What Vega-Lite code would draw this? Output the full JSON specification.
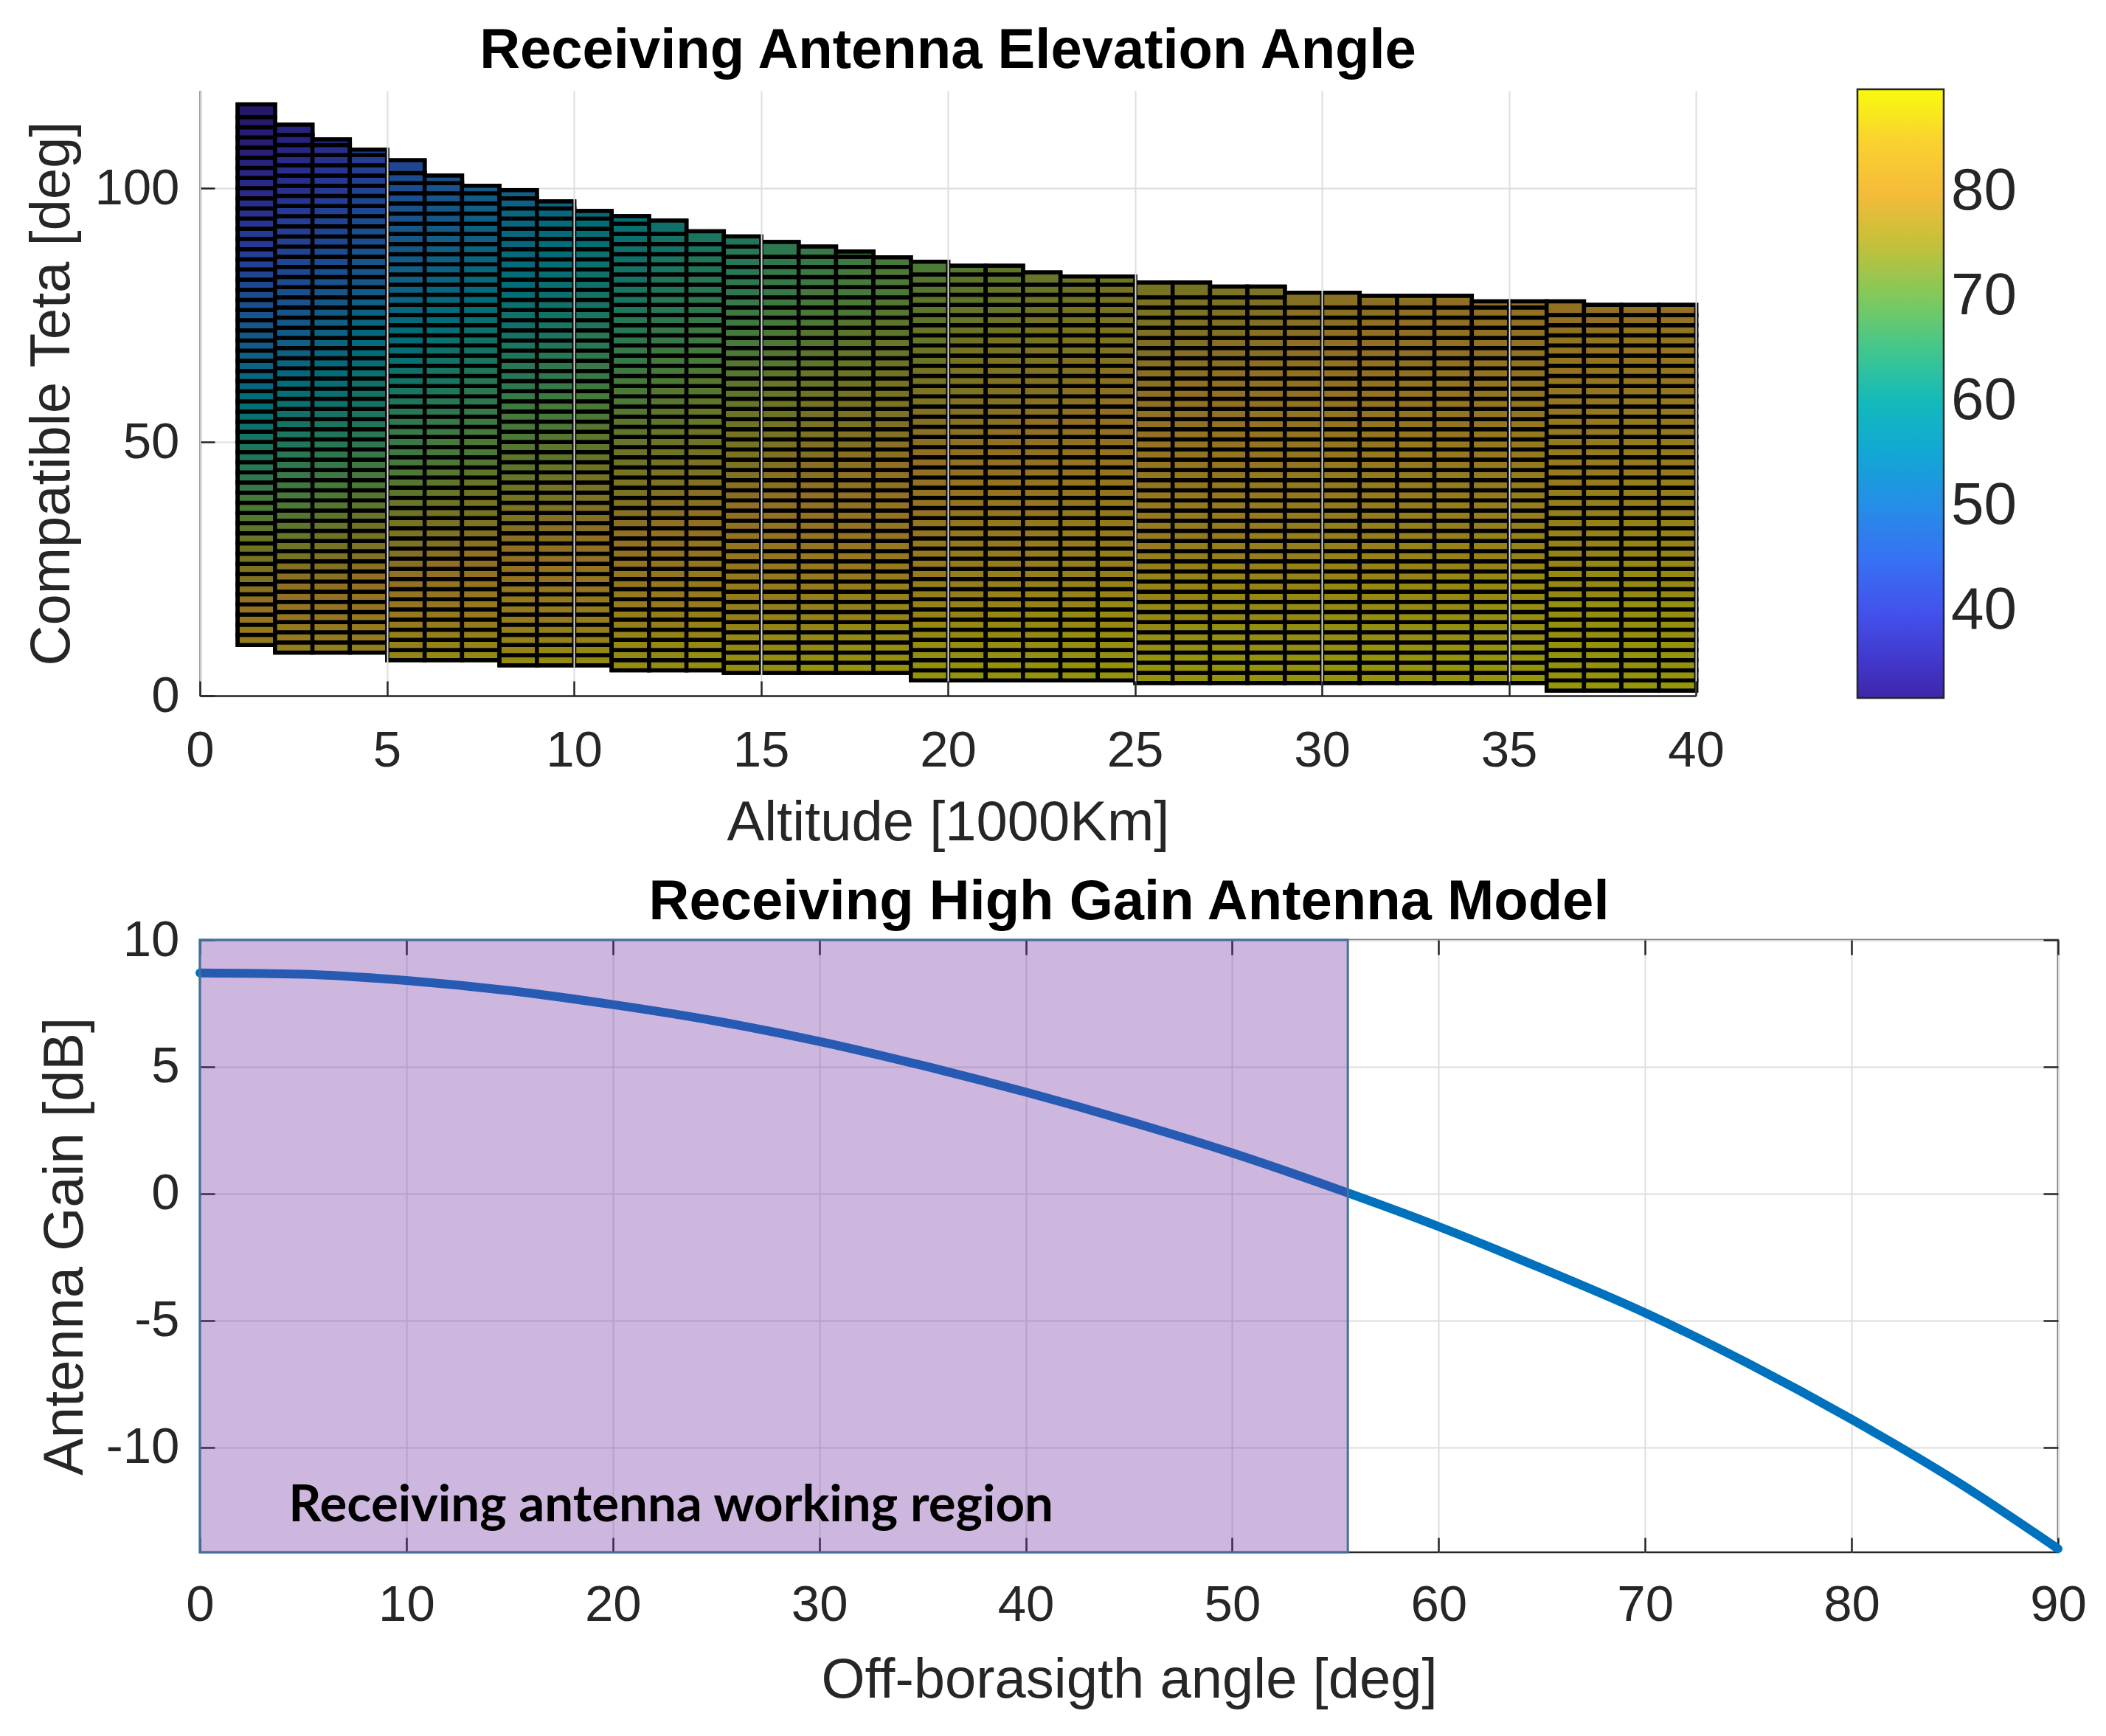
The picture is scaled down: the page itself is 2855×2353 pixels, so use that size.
{
  "$schema": "https://vega.github.io/schema/vega-lite/v6.json",
  "autosize": {"type": "pad"},
  "padding": {"left": 31, "top": 31, "right": 5, "bottom": 5},
  "background": "white",
  "spacing": 331,
  "bounds": "flush",
  "config": {
    "font": "Liberation Sans",
    "view": {"stroke": null},
    "axis": {"labelFont": "Liberation Sans", "titleFont": "Liberation Sans", "labelFontSize": 69, "titleFontSize": 76, "titleFontWeight": "normal", "labelColor": "#262626", "titleColor": "#262626", "tickColor": "#262626", "tickWidth": 2.5, "tickSize": -20, "domainColor": "#262626", "domainWidth": 2.5, "gridColor": "#dedede", "gridWidth": 2, "labelFlush": false, "labelOverlap": false, "labelBound": false, "titleBaseline": "middle"},
    "axisX": {"labelPadding": 60},
    "axisY": {"labelPadding": 48},
    "title": {"font": "Liberation Sans", "fontSize": 76, "fontWeight": "bold", "color": "#000000", "baseline": "middle", "anchor": "middle"},
    "legend": {"labelFont": "Liberation Sans"}
  },
  "vconcat": [
    {
      "width": 2028,
      "height": 820,
      "title": {"text": "Receiving Antenna Elevation Angle", "offset": 15},
      "data": {
        "values": "x,y,e\n1,10,84\n1,12,83\n1,14,82\n1,16,81\n1,18,80\n1,20,78\n1,22,77\n1,24,76\n1,26,75\n1,28,74\n1,30,73\n1,32,72\n1,34,71\n1,36,70\n1,38,69\n1,40,67\n1,42,66\n1,44,65\n1,46,64\n1,48,63\n1,50,62\n1,52,61\n1,54,60\n1,56,59\n1,58,58\n1,60,56\n1,62,55\n1,64,54\n1,66,53\n1,68,52\n1,70,51\n1,72,50\n1,74,49\n1,76,48\n1,78,47\n1,80,46\n1,82,45\n1,84,44\n1,86,43\n1,88,42\n1,90,42\n1,92,41\n1,94,40\n1,96,39\n1,98,38\n1,100,38\n1,102,37\n1,104,36\n1,106,35\n1,108,34\n1,110,34\n1,112,33\n1,114,32\n1,116.5,\n2,8.5,85\n2,10.5,84\n2,12.5,83\n2,14.5,82\n2,16.5,81\n2,18.5,80\n2,20.5,79\n2,22.5,78\n2,24.5,77\n2,26.5,75\n2,28.5,74\n2,30.5,73\n2,32.5,72\n2,34.5,71\n2,36.5,70\n2,38.5,69\n2,40.5,68\n2,42.5,67\n2,44.5,66\n2,46.5,65\n2,48.5,64\n2,50.5,63\n2,52.5,62\n2,54.5,61\n2,56.5,60\n2,58.5,59\n2,60.5,58\n2,62.5,56\n2,64.5,55\n2,66.5,54\n2,68.5,53\n2,70.5,52\n2,72.5,51\n2,74.5,50\n2,76.5,49\n2,78.5,48\n2,80.5,47\n2,82.5,46\n2,84.5,46\n2,86.5,45\n2,88.5,44\n2,90.5,43\n2,92.5,43\n2,94.5,42\n2,96.5,41\n2,98.5,40\n2,100.5,39\n2,102.5,39\n2,104.5,38\n2,106.5,37\n2,108.5,36\n2,110.5,36\n2,112.5,\n3,8.5,85\n3,10.5,84\n3,12.5,83\n3,14.5,82\n3,16.5,81\n3,18.5,80\n3,20.5,79\n3,22.5,78\n3,24.5,77\n3,26.5,76\n3,28.5,75\n3,30.5,74\n3,32.5,73\n3,34.5,72\n3,36.5,71\n3,38.5,70\n3,40.5,69\n3,42.5,68\n3,44.5,67\n3,46.5,66\n3,48.5,65\n3,50.5,64\n3,52.5,63\n3,54.5,62\n3,56.5,61\n3,58.5,60\n3,60.5,59\n3,62.5,58\n3,64.5,57\n3,66.5,56\n3,68.5,55\n3,70.5,54\n3,72.5,53\n3,74.5,52\n3,76.5,51\n3,78.5,50\n3,80.5,49\n3,82.5,48\n3,84.5,47\n3,86.5,47\n3,88.5,46\n3,90.5,45\n3,92.5,45\n3,94.5,44\n3,96.5,43\n3,98.5,42\n3,100.5,42\n3,102.5,41\n3,104.5,40\n3,106.5,39\n3,108.5,39\n3,109.6,\n4,8.5,85\n4,10.5,84\n4,12.5,84\n4,14.5,83\n4,16.5,82\n4,18.5,81\n4,20.5,80\n4,22.5,79\n4,24.5,78\n4,26.5,77\n4,28.5,76\n4,30.5,75\n4,32.5,74\n4,34.5,73\n4,36.5,72\n4,38.5,71\n4,40.5,70\n4,42.5,69\n4,44.5,68\n4,46.5,67\n4,48.5,66\n4,50.5,65\n4,52.5,64\n4,54.5,63\n4,56.5,62\n4,58.5,62\n4,60.5,61\n4,62.5,60\n4,64.5,59\n4,66.5,58\n4,68.5,57\n4,70.5,56\n4,72.5,55\n4,74.5,54\n4,76.5,53\n4,78.5,52\n4,80.5,51\n4,82.5,50\n4,84.5,50\n4,86.5,49\n4,88.5,48\n4,90.5,48\n4,92.5,47\n4,94.5,46\n4,96.5,46\n4,98.5,45\n4,100.5,44\n4,102.5,44\n4,104.5,43\n4,106.5,42\n4,107.6,\n5,7,86\n5,9,85\n5,11,85\n5,13,84\n5,15,83\n5,17,82\n5,19,81\n5,21,80\n5,23,79\n5,25,78\n5,27,77\n5,29,76\n5,31,76\n5,33,75\n5,35,74\n5,37,73\n5,39,72\n5,41,71\n5,43,70\n5,45,69\n5,47,68\n5,49,67\n5,51,67\n5,53,66\n5,55,65\n5,57,64\n5,59,63\n5,61,62\n5,63,61\n5,65,60\n5,67,59\n5,69,58\n5,71,58\n5,73,57\n5,75,56\n5,77,55\n5,79,54\n5,81,53\n5,83,53\n5,85,52\n5,87,51\n5,89,51\n5,91,50\n5,93,49\n5,95,49\n5,97,48\n5,99,47\n5,101,47\n5,103,46\n5,105.5,\n6,7,87\n6,9,86\n6,11,85\n6,13,84\n6,15,83\n6,17,82\n6,19,81\n6,21,81\n6,23,80\n6,25,79\n6,27,78\n6,29,77\n6,31,76\n6,33,75\n6,35,75\n6,37,74\n6,39,73\n6,41,72\n6,43,71\n6,45,70\n6,47,69\n6,49,69\n6,51,68\n6,53,67\n6,55,66\n6,57,65\n6,59,64\n6,61,63\n6,63,63\n6,65,62\n6,67,61\n6,69,60\n6,71,59\n6,73,58\n6,75,57\n6,77,57\n6,79,56\n6,81,55\n6,83,54\n6,85,54\n6,87,53\n6,89,53\n6,91,52\n6,93,51\n6,95,51\n6,97,50\n6,99,49\n6,101,49\n6,102.5,\n7,7,87\n7,9,86\n7,11,85\n7,13,84\n7,15,83\n7,17,83\n7,19,82\n7,21,81\n7,23,80\n7,25,79\n7,27,79\n7,29,78\n7,31,77\n7,33,76\n7,35,75\n7,37,75\n7,39,74\n7,41,73\n7,43,72\n7,45,71\n7,47,70\n7,49,70\n7,51,69\n7,53,68\n7,55,67\n7,57,66\n7,59,66\n7,61,65\n7,63,64\n7,65,63\n7,67,62\n7,69,62\n7,71,61\n7,73,60\n7,75,59\n7,77,58\n7,79,57\n7,81,57\n7,83,56\n7,85,56\n7,87,55\n7,89,54\n7,91,54\n7,93,53\n7,95,53\n7,97,52\n7,99,52\n7,100.5,\n8,6,87\n8,8,86\n8,10,86\n8,12,85\n8,14,84\n8,16,83\n8,18,83\n8,20,82\n8,22,81\n8,24,80\n8,26,79\n8,28,79\n8,30,78\n8,32,77\n8,34,76\n8,36,76\n8,38,75\n8,40,74\n8,42,73\n8,44,72\n8,46,72\n8,48,71\n8,50,70\n8,52,69\n8,54,69\n8,56,68\n8,58,67\n8,60,66\n8,62,65\n8,64,65\n8,66,64\n8,68,63\n8,70,62\n8,72,61\n8,74,61\n8,76,60\n8,78,59\n8,80,58\n8,82,58\n8,84,57\n8,86,57\n8,88,56\n8,90,56\n8,92,55\n8,94,55\n8,96,54\n8,98,53\n8,99.6,\n9,6,87\n9,8,87\n9,10,86\n9,12,85\n9,14,84\n9,16,84\n9,18,83\n9,20,82\n9,22,81\n9,24,81\n9,26,80\n9,28,79\n9,30,78\n9,32,78\n9,34,77\n9,36,76\n9,38,75\n9,40,75\n9,42,74\n9,44,73\n9,46,72\n9,48,72\n9,50,71\n9,52,70\n9,54,69\n9,56,69\n9,58,68\n9,60,67\n9,62,66\n9,64,66\n9,66,65\n9,68,64\n9,70,63\n9,72,63\n9,74,62\n9,76,61\n9,78,60\n9,80,60\n9,82,59\n9,84,59\n9,86,58\n9,88,58\n9,90,57\n9,92,57\n9,94,56\n9,96,56\n9,97.4,\n10,6,87\n10,8,87\n10,10,86\n10,12,85\n10,14,85\n10,16,84\n10,18,83\n10,20,82\n10,22,82\n10,24,81\n10,26,80\n10,28,80\n10,30,79\n10,32,78\n10,34,77\n10,36,77\n10,38,76\n10,40,75\n10,42,75\n10,44,74\n10,46,73\n10,48,72\n10,50,72\n10,52,71\n10,54,70\n10,56,70\n10,58,69\n10,60,68\n10,62,67\n10,64,67\n10,66,66\n10,68,65\n10,70,65\n10,72,64\n10,74,63\n10,76,62\n10,78,62\n10,80,61\n10,82,61\n10,84,60\n10,86,60\n10,88,59\n10,90,59\n10,92,58\n10,94,58\n10,95.5,\n11,5,88\n11,7,87\n11,9,87\n11,11,86\n11,13,85\n11,15,85\n11,17,84\n11,19,83\n11,21,82\n11,23,82\n11,25,81\n11,27,80\n11,29,80\n11,31,79\n11,33,78\n11,35,78\n11,37,77\n11,39,76\n11,41,76\n11,43,75\n11,45,74\n11,47,74\n11,49,73\n11,51,72\n11,53,72\n11,55,71\n11,57,70\n11,59,70\n11,61,69\n11,63,68\n11,65,67\n11,67,67\n11,69,66\n11,71,65\n11,73,65\n11,75,64\n11,77,63\n11,79,63\n11,81,62\n11,83,62\n11,85,61\n11,87,61\n11,89,60\n11,91,60\n11,93,59\n11,94.5,\n12,5,88\n12,7,87\n12,9,87\n12,11,86\n12,13,85\n12,15,85\n12,17,84\n12,19,84\n12,21,83\n12,23,82\n12,25,82\n12,27,81\n12,29,80\n12,31,80\n12,33,79\n12,35,78\n12,37,78\n12,39,77\n12,41,76\n12,43,76\n12,45,75\n12,47,74\n12,49,74\n12,51,73\n12,53,72\n12,55,72\n12,57,71\n12,59,71\n12,61,70\n12,63,69\n12,65,69\n12,67,68\n12,69,67\n12,71,67\n12,73,66\n12,75,65\n12,77,65\n12,79,64\n12,81,64\n12,83,63\n12,85,63\n12,87,62\n12,89,62\n12,91,61\n12,93.6,\n13,5,88\n13,7,88\n13,9,87\n13,11,86\n13,13,86\n13,15,85\n13,17,84\n13,19,84\n13,21,83\n13,23,83\n13,25,82\n13,27,81\n13,29,81\n13,31,80\n13,33,79\n13,35,79\n13,37,78\n13,39,78\n13,41,77\n13,43,76\n13,45,76\n13,47,75\n13,49,74\n13,51,74\n13,53,73\n13,55,73\n13,57,72\n13,59,71\n13,61,71\n13,63,70\n13,65,69\n13,67,69\n13,69,68\n13,71,68\n13,73,67\n13,75,66\n13,77,66\n13,79,65\n13,81,65\n13,83,64\n13,85,64\n13,87,63\n13,89,63\n13,91.5,\n14,4.5,88\n14,6.5,88\n14,8.5,87\n14,10.5,87\n14,12.5,86\n14,14.5,85\n14,16.5,85\n14,18.5,84\n14,20.5,84\n14,22.5,83\n14,24.5,82\n14,26.5,82\n14,28.5,81\n14,30.5,81\n14,32.5,80\n14,34.5,79\n14,36.5,79\n14,38.5,78\n14,40.5,78\n14,42.5,77\n14,44.5,76\n14,46.5,76\n14,48.5,75\n14,50.5,75\n14,52.5,74\n14,54.5,74\n14,56.5,73\n14,58.5,72\n14,60.5,72\n14,62.5,71\n14,64.5,71\n14,66.5,70\n14,68.5,69\n14,70.5,69\n14,72.5,68\n14,74.5,68\n14,76.5,67\n14,78.5,66\n14,80.5,66\n14,82.5,65\n14,84.5,65\n14,86.5,65\n14,88.5,64\n14,90.5,\n15,4.5,88\n15,6.5,88\n15,8.5,87\n15,10.5,87\n15,12.5,86\n15,14.5,86\n15,16.5,85\n15,18.5,84\n15,20.5,84\n15,22.5,83\n15,24.5,83\n15,26.5,82\n15,28.5,82\n15,30.5,81\n15,32.5,81\n15,34.5,80\n15,36.5,79\n15,38.5,79\n15,40.5,78\n15,42.5,78\n15,44.5,77\n15,46.5,77\n15,48.5,76\n15,50.5,75\n15,52.5,75\n15,54.5,74\n15,56.5,74\n15,58.5,73\n15,60.5,73\n15,62.5,72\n15,64.5,71\n15,66.5,71\n15,68.5,70\n15,70.5,70\n15,72.5,69\n15,74.5,69\n15,76.5,68\n15,78.5,67\n15,80.5,67\n15,82.5,67\n15,84.5,66\n15,86.5,66\n15,89.4,\n16,4.5,89\n16,6.5,88\n16,8.5,87\n16,10.5,87\n16,12.5,86\n16,14.5,86\n16,16.5,85\n16,18.5,85\n16,20.5,84\n16,22.5,84\n16,24.5,83\n16,26.5,83\n16,28.5,82\n16,30.5,82\n16,32.5,81\n16,34.5,80\n16,36.5,80\n16,38.5,79\n16,40.5,79\n16,42.5,78\n16,44.5,78\n16,46.5,77\n16,48.5,77\n16,50.5,76\n16,52.5,76\n16,54.5,75\n16,56.5,75\n16,58.5,74\n16,60.5,73\n16,62.5,73\n16,64.5,72\n16,66.5,72\n16,68.5,71\n16,70.5,71\n16,72.5,70\n16,74.5,70\n16,76.5,69\n16,78.5,69\n16,80.5,68\n16,82.5,68\n16,84.5,67\n16,86.5,67\n16,88.5,\n17,4.5,89\n17,6.5,88\n17,8.5,88\n17,10.5,87\n17,12.5,87\n17,14.5,86\n17,16.5,85\n17,18.5,85\n17,20.5,84\n17,22.5,84\n17,24.5,83\n17,26.5,83\n17,28.5,82\n17,30.5,82\n17,32.5,81\n17,34.5,81\n17,36.5,80\n17,38.5,80\n17,40.5,79\n17,42.5,79\n17,44.5,78\n17,46.5,78\n17,48.5,77\n17,50.5,77\n17,52.5,76\n17,54.5,76\n17,56.5,75\n17,58.5,75\n17,60.5,74\n17,62.5,74\n17,64.5,73\n17,66.5,73\n17,68.5,72\n17,70.5,72\n17,72.5,71\n17,74.5,70\n17,76.5,70\n17,78.5,69\n17,80.5,69\n17,82.5,69\n17,84.5,68\n17,86.5,68\n17,87.5,\n18,4.5,89\n18,6.5,88\n18,8.5,88\n18,10.5,87\n18,12.5,87\n18,14.5,86\n18,16.5,86\n18,18.5,85\n18,20.5,85\n18,22.5,84\n18,24.5,84\n18,26.5,83\n18,28.5,83\n18,30.5,82\n18,32.5,82\n18,34.5,81\n18,36.5,81\n18,38.5,80\n18,40.5,80\n18,42.5,79\n18,44.5,79\n18,46.5,78\n18,48.5,78\n18,50.5,77\n18,52.5,77\n18,54.5,76\n18,56.5,76\n18,58.5,75\n18,60.5,75\n18,62.5,74\n18,64.5,74\n18,66.5,73\n18,68.5,73\n18,70.5,72\n18,72.5,72\n18,74.5,71\n18,76.5,71\n18,78.5,70\n18,80.5,70\n18,82.5,70\n18,84.5,69\n18,86.4,\n19,3,89\n19,5,89\n19,7,88\n19,9,88\n19,11,87\n19,13,87\n19,15,86\n19,17,86\n19,19,85\n19,21,85\n19,23,84\n19,25,84\n19,27,83\n19,29,83\n19,31,82\n19,33,82\n19,35,81\n19,37,81\n19,39,81\n19,41,80\n19,43,80\n19,45,79\n19,47,79\n19,49,78\n19,51,78\n19,53,77\n19,55,77\n19,57,76\n19,59,76\n19,61,75\n19,63,75\n19,65,74\n19,67,74\n19,69,73\n19,71,73\n19,73,72\n19,75,72\n19,77,72\n19,79,71\n19,81,71\n19,83,70\n19,85.5,\n20,3,89\n20,5,89\n20,7,88\n20,9,88\n20,11,87\n20,13,87\n20,15,86\n20,17,86\n20,19,85\n20,21,85\n20,23,85\n20,25,84\n20,27,84\n20,29,83\n20,31,83\n20,33,82\n20,35,82\n20,37,81\n20,39,81\n20,41,81\n20,43,80\n20,45,80\n20,47,79\n20,49,79\n20,51,78\n20,53,78\n20,55,77\n20,57,77\n20,59,76\n20,61,76\n20,63,76\n20,65,75\n20,67,75\n20,69,74\n20,71,74\n20,73,73\n20,75,73\n20,77,72\n20,79,72\n20,81,72\n20,83,71\n20,84.7,\n21,3,89\n21,5,89\n21,7,88\n21,9,88\n21,11,87\n21,13,87\n21,15,87\n21,17,86\n21,19,86\n21,21,85\n21,23,85\n21,25,84\n21,27,84\n21,29,83\n21,31,83\n21,33,83\n21,35,82\n21,37,82\n21,39,81\n21,41,81\n21,43,80\n21,45,80\n21,47,80\n21,49,79\n21,51,79\n21,53,78\n21,55,78\n21,57,77\n21,59,77\n21,61,77\n21,63,76\n21,65,76\n21,67,75\n21,69,75\n21,71,74\n21,73,74\n21,75,73\n21,77,73\n21,79,73\n21,81,72\n21,83,72\n21,84.7,\n22,3,89\n22,5,89\n22,7,88\n22,9,88\n22,11,87\n22,13,87\n22,15,87\n22,17,86\n22,19,86\n22,21,85\n22,23,85\n22,25,85\n22,27,84\n22,29,84\n22,31,83\n22,33,83\n22,35,82\n22,37,82\n22,39,82\n22,41,81\n22,43,81\n22,45,80\n22,47,80\n22,49,80\n22,51,79\n22,53,79\n22,55,78\n22,57,78\n22,59,77\n22,61,77\n22,63,77\n22,65,76\n22,67,76\n22,69,75\n22,71,75\n22,73,75\n22,75,74\n22,77,74\n22,79,73\n22,81,73\n22,83.4,\n23,3,89\n23,5,89\n23,7,88\n23,9,88\n23,11,88\n23,13,87\n23,15,87\n23,17,86\n23,19,86\n23,21,86\n23,23,85\n23,25,85\n23,27,84\n23,29,84\n23,31,84\n23,33,83\n23,35,83\n23,37,82\n23,39,82\n23,41,82\n23,43,81\n23,45,81\n23,47,80\n23,49,80\n23,51,80\n23,53,79\n23,55,79\n23,57,78\n23,59,78\n23,61,78\n23,63,77\n23,65,77\n23,67,76\n23,69,76\n23,71,76\n23,73,75\n23,75,75\n23,77,74\n23,79,74\n23,81,74\n23,82.6,\n24,3,89\n24,5,89\n24,7,88\n24,9,88\n24,11,88\n24,13,87\n24,15,87\n24,17,87\n24,19,86\n24,21,86\n24,23,85\n24,25,85\n24,27,85\n24,29,84\n24,31,84\n24,33,83\n24,35,83\n24,37,83\n24,39,82\n24,41,82\n24,43,81\n24,45,81\n24,47,81\n24,49,80\n24,51,80\n24,53,80\n24,55,79\n24,57,79\n24,59,78\n24,61,78\n24,63,78\n24,65,77\n24,67,77\n24,69,76\n24,71,76\n24,73,76\n24,75,75\n24,77,75\n24,79,75\n24,81,74\n24,82.6,\n25,2.5,89\n25,4.5,89\n25,6.5,89\n25,8.5,88\n25,10.5,88\n25,12.5,87\n25,14.5,87\n25,16.5,87\n25,18.5,86\n25,20.5,86\n25,22.5,86\n25,24.5,85\n25,26.5,85\n25,28.5,84\n25,30.5,84\n25,32.5,84\n25,34.5,83\n25,36.5,83\n25,38.5,83\n25,40.5,82\n25,42.5,82\n25,44.5,81\n25,46.5,81\n25,48.5,81\n25,50.5,80\n25,52.5,80\n25,54.5,80\n25,56.5,79\n25,58.5,79\n25,60.5,78\n25,62.5,78\n25,64.5,78\n25,66.5,77\n25,68.5,77\n25,70.5,77\n25,72.5,76\n25,74.5,76\n25,76.5,76\n25,78.5,75\n25,81.4,\n26,2.5,89\n26,4.5,89\n26,6.5,89\n26,8.5,88\n26,10.5,88\n26,12.5,88\n26,14.5,87\n26,16.5,87\n26,18.5,86\n26,20.5,86\n26,22.5,86\n26,24.5,85\n26,26.5,85\n26,28.5,85\n26,30.5,84\n26,32.5,84\n26,34.5,84\n26,36.5,83\n26,38.5,83\n26,40.5,82\n26,42.5,82\n26,44.5,82\n26,46.5,81\n26,48.5,81\n26,50.5,81\n26,52.5,80\n26,54.5,80\n26,56.5,80\n26,58.5,79\n26,60.5,79\n26,62.5,78\n26,64.5,78\n26,66.5,78\n26,68.5,77\n26,70.5,77\n26,72.5,77\n26,74.5,76\n26,76.5,76\n26,78.5,75\n26,81.4,\n27,2.5,89\n27,4.5,89\n27,6.5,89\n27,8.5,88\n27,10.5,88\n27,12.5,88\n27,14.5,87\n27,16.5,87\n27,18.5,87\n27,20.5,86\n27,22.5,86\n27,24.5,86\n27,26.5,85\n27,28.5,85\n27,30.5,84\n27,32.5,84\n27,34.5,84\n27,36.5,83\n27,38.5,83\n27,40.5,83\n27,42.5,82\n27,44.5,82\n27,46.5,82\n27,48.5,81\n27,50.5,81\n27,52.5,81\n27,54.5,80\n27,56.5,80\n27,58.5,80\n27,60.5,79\n27,62.5,79\n27,64.5,78\n27,66.5,78\n27,68.5,78\n27,70.5,77\n27,72.5,77\n27,74.5,77\n27,76.5,76\n27,78.5,76\n27,80.6,\n28,2.5,89\n28,4.5,89\n28,6.5,89\n28,8.5,88\n28,10.5,88\n28,12.5,88\n28,14.5,87\n28,16.5,87\n28,18.5,87\n28,20.5,86\n28,22.5,86\n28,24.5,86\n28,26.5,85\n28,28.5,85\n28,30.5,85\n28,32.5,84\n28,34.5,84\n28,36.5,84\n28,38.5,83\n28,40.5,83\n28,42.5,83\n28,44.5,82\n28,46.5,82\n28,48.5,82\n28,50.5,81\n28,52.5,81\n28,54.5,81\n28,56.5,80\n28,58.5,80\n28,60.5,80\n28,62.5,79\n28,64.5,79\n28,66.5,78\n28,68.5,78\n28,70.5,78\n28,72.5,77\n28,74.5,77\n28,76.5,77\n28,78.5,76\n28,80.6,\n29,2.5,89\n29,4.5,89\n29,6.5,89\n29,8.5,88\n29,10.5,88\n29,12.5,88\n29,14.5,87\n29,16.5,87\n29,18.5,87\n29,20.5,86\n29,22.5,86\n29,24.5,86\n29,26.5,85\n29,28.5,85\n29,30.5,85\n29,32.5,84\n29,34.5,84\n29,36.5,84\n29,38.5,83\n29,40.5,83\n29,42.5,83\n29,44.5,82\n29,46.5,82\n29,48.5,82\n29,50.5,82\n29,52.5,81\n29,54.5,81\n29,56.5,81\n29,58.5,80\n29,60.5,80\n29,62.5,80\n29,64.5,79\n29,66.5,79\n29,68.5,79\n29,70.5,78\n29,72.5,78\n29,74.5,78\n29,76.5,77\n29,79.4,\n30,2.5,89\n30,4.5,89\n30,6.5,89\n30,8.5,88\n30,10.5,88\n30,12.5,88\n30,14.5,88\n30,16.5,87\n30,18.5,87\n30,20.5,87\n30,22.5,86\n30,24.5,86\n30,26.5,86\n30,28.5,85\n30,30.5,85\n30,32.5,85\n30,34.5,84\n30,36.5,84\n30,38.5,84\n30,40.5,83\n30,42.5,83\n30,44.5,83\n30,46.5,82\n30,48.5,82\n30,50.5,82\n30,52.5,81\n30,54.5,81\n30,56.5,81\n30,58.5,81\n30,60.5,80\n30,62.5,80\n30,64.5,80\n30,66.5,79\n30,68.5,79\n30,70.5,79\n30,72.5,78\n30,74.5,78\n30,76.5,78\n30,79.4,\n31,2.5,89\n31,4.5,89\n31,6.5,89\n31,8.5,89\n31,10.5,88\n31,12.5,88\n31,14.5,88\n31,16.5,87\n31,18.5,87\n31,20.5,87\n31,22.5,86\n31,24.5,86\n31,26.5,86\n31,28.5,85\n31,30.5,85\n31,32.5,85\n31,34.5,84\n31,36.5,84\n31,38.5,84\n31,40.5,84\n31,42.5,83\n31,44.5,83\n31,46.5,83\n31,48.5,82\n31,50.5,82\n31,52.5,82\n31,54.5,81\n31,56.5,81\n31,58.5,81\n31,60.5,80\n31,62.5,80\n31,64.5,80\n31,66.5,80\n31,68.5,79\n31,70.5,79\n31,72.5,79\n31,74.5,78\n31,76.5,78\n31,78.8,\n32,2.5,89\n32,4.5,89\n32,6.5,89\n32,8.5,89\n32,10.5,88\n32,12.5,88\n32,14.5,88\n32,16.5,87\n32,18.5,87\n32,20.5,87\n32,22.5,86\n32,24.5,86\n32,26.5,86\n32,28.5,86\n32,30.5,85\n32,32.5,85\n32,34.5,85\n32,36.5,84\n32,38.5,84\n32,40.5,84\n32,42.5,83\n32,44.5,83\n32,46.5,83\n32,48.5,83\n32,50.5,82\n32,52.5,82\n32,54.5,82\n32,56.5,81\n32,58.5,81\n32,60.5,81\n32,62.5,80\n32,64.5,80\n32,66.5,80\n32,68.5,80\n32,70.5,79\n32,72.5,79\n32,74.5,79\n32,76.5,78\n32,78.8,\n33,2.5,89\n33,4.5,89\n33,6.5,89\n33,8.5,89\n33,10.5,88\n33,12.5,88\n33,14.5,88\n33,16.5,87\n33,18.5,87\n33,20.5,87\n33,22.5,87\n33,24.5,86\n33,26.5,86\n33,28.5,86\n33,30.5,85\n33,32.5,85\n33,34.5,85\n33,36.5,85\n33,38.5,84\n33,40.5,84\n33,42.5,84\n33,44.5,83\n33,46.5,83\n33,48.5,83\n33,50.5,82\n33,52.5,82\n33,54.5,82\n33,56.5,82\n33,58.5,81\n33,60.5,81\n33,62.5,81\n33,64.5,80\n33,66.5,80\n33,68.5,80\n33,70.5,80\n33,72.5,79\n33,74.5,79\n33,76.5,79\n33,78.8,\n34,2.5,89\n34,4.5,89\n34,6.5,89\n34,8.5,89\n34,10.5,88\n34,12.5,88\n34,14.5,88\n34,16.5,88\n34,18.5,87\n34,20.5,87\n34,22.5,87\n34,24.5,86\n34,26.5,86\n34,28.5,86\n34,30.5,86\n34,32.5,85\n34,34.5,85\n34,36.5,85\n34,38.5,84\n34,40.5,84\n34,42.5,84\n34,44.5,84\n34,46.5,83\n34,48.5,83\n34,50.5,83\n34,52.5,82\n34,54.5,82\n34,56.5,82\n34,58.5,82\n34,60.5,81\n34,62.5,81\n34,64.5,81\n34,66.5,80\n34,68.5,80\n34,70.5,80\n34,72.5,80\n34,74.5,79\n34,76.5,79\n34,77.7,\n35,2.5,90\n35,4.5,89\n35,6.5,89\n35,8.5,89\n35,10.5,88\n35,12.5,88\n35,14.5,88\n35,16.5,88\n35,18.5,87\n35,20.5,87\n35,22.5,87\n35,24.5,86\n35,26.5,86\n35,28.5,86\n35,30.5,86\n35,32.5,85\n35,34.5,85\n35,36.5,85\n35,38.5,85\n35,40.5,84\n35,42.5,84\n35,44.5,84\n35,46.5,83\n35,48.5,83\n35,50.5,83\n35,52.5,83\n35,54.5,82\n35,56.5,82\n35,58.5,82\n35,60.5,81\n35,62.5,81\n35,64.5,81\n35,66.5,81\n35,68.5,80\n35,70.5,80\n35,72.5,80\n35,74.5,80\n35,76.5,79\n35,77.7,\n36,1,90\n36,3,89\n36,5,89\n36,7,89\n36,9,89\n36,11,88\n36,13,88\n36,15,88\n36,17,88\n36,19,87\n36,21,87\n36,23,87\n36,25,86\n36,27,86\n36,29,86\n36,31,86\n36,33,85\n36,35,85\n36,37,85\n36,39,85\n36,41,84\n36,43,84\n36,45,84\n36,47,84\n36,49,83\n36,51,83\n36,53,83\n36,55,82\n36,57,82\n36,59,82\n36,61,82\n36,63,81\n36,65,81\n36,67,81\n36,69,81\n36,71,80\n36,73,80\n36,75,80\n36,77.7,\n37,1,90\n37,3,89\n37,5,89\n37,7,89\n37,9,89\n37,11,88\n37,13,88\n37,15,88\n37,17,88\n37,19,87\n37,21,87\n37,23,87\n37,25,87\n37,27,86\n37,29,86\n37,31,86\n37,33,86\n37,35,85\n37,37,85\n37,39,85\n37,41,84\n37,43,84\n37,45,84\n37,47,84\n37,49,83\n37,51,83\n37,53,83\n37,55,83\n37,57,82\n37,59,82\n37,61,82\n37,63,82\n37,65,81\n37,67,81\n37,69,81\n37,71,80\n37,73,80\n37,75,80\n37,77,\n38,1,90\n38,3,89\n38,5,89\n38,7,89\n38,9,89\n38,11,88\n38,13,88\n38,15,88\n38,17,88\n38,19,87\n38,21,87\n38,23,87\n38,25,87\n38,27,86\n38,29,86\n38,31,86\n38,33,86\n38,35,85\n38,37,85\n38,39,85\n38,41,85\n38,43,84\n38,45,84\n38,47,84\n38,49,84\n38,51,83\n38,53,83\n38,55,83\n38,57,83\n38,59,82\n38,61,82\n38,63,82\n38,65,81\n38,67,81\n38,69,81\n38,71,81\n38,73,80\n38,75,80\n38,77,\n39,1,90\n39,3,89\n39,5,89\n39,7,89\n39,9,89\n39,11,88\n39,13,88\n39,15,88\n39,17,88\n39,19,87\n39,21,87\n39,23,87\n39,25,87\n39,27,86\n39,29,86\n39,31,86\n39,33,86\n39,35,85\n39,37,85\n39,39,85\n39,41,85\n39,43,84\n39,45,84\n39,47,84\n39,49,84\n39,51,83\n39,53,83\n39,55,83\n39,57,83\n39,59,82\n39,61,82\n39,63,82\n39,65,82\n39,67,81\n39,69,81\n39,71,81\n39,73,81\n39,75,80\n39,77,\n",
        "format": {"type": "csv", "parse": {"x": "number", "y": "number", "e": "number"}}
      },
      "transform": [
        {"window": [{"op": "lead", "field": "y", "as": "y2"}], "groupby": ["x"], "sort": [{"field": "y", "order": "ascending"}]},
        {"filter": {"field": "e", "valid": true}}
      ],
      "encoding": {
        "x": {"field": "x", "type": "quantitative", "bin": {"step": 1, "extent": [0, 40]}, "scale": {"domain": [0, 40], "nice": false, "zero": false},
              "axis": {"values": [0, 5, 10, 15, 20, 25, 30, 35, 40], "labelExpr": "'' + datum.value", "title": "Altitude [1000Km]", "titleX": 1014, "titleY": 172, "grid": true}},
        "y": {"field": "y", "type": "quantitative", "scale": {"domain": [0, 119.2], "nice": false, "zero": false},
              "axis": {"values": [0, 50, 100], "labelExpr": "'' + datum.value", "title": "Compatible Teta [deg]", "titleX": -201, "titleY": 410, "grid": true}},
        "y2": {"field": "y2"}
      },
      "layer": [
        {"mark": {"type": "rect", "fill": "#000000", "stroke": "#000000", "strokeWidth": 5.5}},
        {
          "mark": {"type": "rect", "fillOpacity": 0.6, "stroke": "#000000", "strokeWidth": 5.5},
          "encoding": {
            "color": {"field": "e", "type": "quantitative",
                      "scale": {"domain": [31.7, 36.98, 42.26, 47.55, 52.83, 58.11, 63.39, 68.67, 73.96, 79.24, 84.52, 89.8],
                                "range": ["#3E26A8", "#4540DF", "#4061F7", "#2E80EF", "#1D9DDD", "#03B5CA", "#2FC49E", "#6FCB66", "#B8C23A", "#F4B93A", "#F9CF31", "#F9FB0E"],
                                "interpolate": "rgb", "clamp": true},
                      "legend": {"orient": "none", "legendX": 2247, "legendY": -2, "direction": "vertical", "gradientLength": 825, "gradientThickness": 117, "title": null, "values": [40, 50, 60, 70, 80], "labelFontSize": 80, "labelColor": "#262626", "labelOffset": 10, "gradientStrokeColor": "#262626", "gradientStrokeWidth": 2.5, "gradientOpacity": 1, "padding": 0, "labelOverlap": false}}
          }
        }
      ]
    },
    {
      "width": 2519,
      "height": 830,
      "title": {"text": "Receiving High Gain Antenna Model", "offset": -22},
      "view": {"stroke": "#262626", "strokeWidth": 2.5},
      "layer": [
        {
          "data": {"values": [
            {"a": 0, "g": 8.7}, {"a": 5, "g": 8.65}, {"a": 10, "g": 8.4}, {"a": 15, "g": 8.0}, {"a": 20, "g": 7.45},
            {"a": 25, "g": 6.8}, {"a": 30, "g": 6.0}, {"a": 35, "g": 5.05}, {"a": 40, "g": 4.0}, {"a": 45, "g": 2.85},
            {"a": 50, "g": 1.6}, {"a": 55, "g": 0.2}, {"a": 60, "g": -1.3}, {"a": 65, "g": -2.95}, {"a": 70, "g": -4.7},
            {"a": 75, "g": -6.7}, {"a": 80, "g": -8.9}, {"a": 85, "g": -11.3}, {"a": 90, "g": -14.0}
          ]},
          "mark": {"type": "line", "color": "#0072BD", "strokeWidth": 12, "interpolate": "monotone", "strokeCap": "round"},
          "encoding": {
            "x": {"field": "a", "type": "quantitative", "scale": {"domain": [0, 90], "nice": false, "zero": false},
                  "axis": {"values": [0, 10, 20, 30, 40, 50, 60, 70, 80, 90], "labelExpr": "'' + datum.value", "title": "Off-borasigth angle [deg]", "titleX": 1259.5, "titleY": 173, "grid": true, "domain": false, "labelPadding": 57}},
            "y": {"field": "g", "type": "quantitative", "scale": {"domain": [-14.14, 10], "nice": false, "zero": false},
                  "axis": {"values": [-10, -5, 0, 5, 10], "labelExpr": "'' + datum.value", "title": "Antenna Gain [dB]", "titleX": -183, "titleY": 415, "grid": true, "domain": false}}
          }
        },
        {
          "data": {"values": [{"x0": 0, "x1": 55.6, "y0": -14.14, "y1": 10}]},
          "mark": {"type": "rect", "fill": "#7030A0", "fillOpacity": 0.35, "stroke": "#41719C", "strokeWidth": 3},
          "encoding": {
            "x": {"field": "x0", "type": "quantitative", "scale": {"domain": [0, 90], "nice": false, "zero": false},
                  "axis": {"orient": "top", "values": [0, 10, 20, 30, 40, 50, 60, 70, 80, 90], "labels": false, "title": null, "grid": false, "domain": false}},
            "x2": {"field": "x1"},
            "y": {"field": "y0", "type": "quantitative", "scale": {"domain": [-14.14, 10], "nice": false, "zero": false},
                  "axis": {"orient": "right", "values": [-10, -5, 0, 5, 10], "labels": false, "title": null, "grid": false, "domain": false}},
            "y2": {"field": "y1"}
          }
        },
        {
          "data": {"values": [{"x": 4.3, "y": -12.3, "t": "Receiving antenna working region"}]},
          "mark": {"type": "text", "font": "Lato", "fontWeight": "bold", "fontSize": 69, "align": "left", "baseline": "middle", "color": "#000000"},
          "encoding": {
            "x": {"field": "x", "type": "quantitative", "axis": null, "scale": {"domain": [0, 90], "nice": false, "zero": false}},
            "y": {"field": "y", "type": "quantitative", "axis": null, "scale": {"domain": [-14.14, 10], "nice": false, "zero": false}},
            "text": {"field": "t"}
          }
        }
      ],
      "resolve": {"axis": {"x": "independent", "y": "independent"}}
    }
  ]
}
